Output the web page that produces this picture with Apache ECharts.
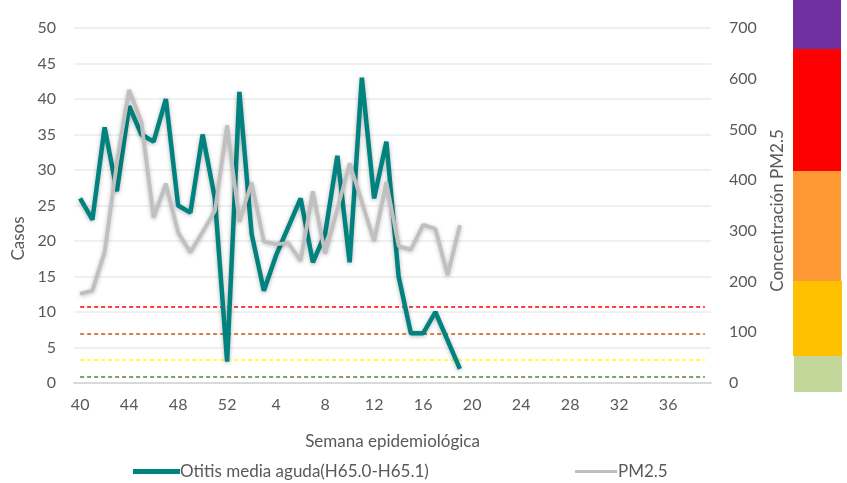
<!DOCTYPE html>
<html>
<head>
<meta charset="utf-8">
<script src="https://cdn.jsdelivr.net/npm/echarts@6/dist/echarts.min.js"></script>
<style>
html,body{margin:0;padding:0;background:#fff;}
#chart{width:847px;height:483px;}
</style>
</head>
<body>
<div id="chart"></div>
<script>
// Epidemiological weeks (categories)
var weeks = ['40','41','42','43','44','45','46','47','48','49','50','51','52',
  '1','2','3','4','5','6','7','8','9','10','11','12','13','14','15','16','17','18','19',
  '20','21','22','23','24','25','26','27','28','29','30','31','32','33','34','35','36','37','38','39'];

// Otitis media aguda cases (left axis)
var otitis = [26,23,36,27,39,35,34,40,25,24,35,26,3,
  41,21,13,18,22,26,17,21,32,17,43,26,34,15,7,7,10,6,2];

// PM2.5 concentration (right axis)
var pm25 = [176,182,258,434,578,515,326,393,297,258,298,339,508,
  318,395,279,274,276,241,378,255,343,433,357,280,396,270,263,312,304,213,311];

// PM2.5 thresholds (right axis) and their colours
var thresholds = [12, 45, 97.4, 150.4];
var thresholdColors = ['#548235', '#FFFF00', '#C55A11', '#FF0000'];

// Left / right axis ticks
var leftTicks = {min:0, max:50, interval:5};
var rightTicks = {min:0, max:700, interval:100};

var labelColor = '#595959';
var fontFam = 'Lato, "Noto Sans", sans-serif';

var chart = echarts.init(document.getElementById('chart'));

var markData = thresholds.map(function(t, i){
  return [
    {coord:[weeks[0], t], lineStyle:{color:thresholdColors[i], type:[4,3], width:1.6}},
    {coord:[weeks[weeks.length-1], t]}
  ];
});

chart.setOption({
  animation:false,
  backgroundColor:'#ffffff',
  textStyle:{fontFamily:fontFam},
  grid:{left:74, right:136, top:28, bottom:100, containLabel:false},
  legend:[
    {left:128, top:458, itemWidth:47, itemHeight:5, itemGap:0, icon:'rect',
     data:[{name:'Otitis media aguda(H65.0-H65.1)', itemStyle:{color:'#00827F'}}],
     textStyle:{color:labelColor, fontSize:17, fontFamily:fontFam, padding:[0,0,0,-5]}},
    {left:570, top:458, itemWidth:42, itemHeight:3, itemGap:0, icon:'rect',
     data:[{name:'PM2.5', itemStyle:{color:'#BFBFBF'}}],
     textStyle:{color:labelColor, fontSize:17, fontFamily:fontFam, padding:[0,0,0,-4]}}
  ],
  xAxis:{
    type:'category', data:weeks, boundaryGap:true,
    name:'Semana epidemiológica', nameLocation:'middle', nameGap:50,
    nameTextStyle:{color:labelColor, fontSize:17, fontFamily:fontFam},
    axisLine:{lineStyle:{color:'#D9D9D9', width:2}},
    axisTick:{show:false},
    axisLabel:{interval:3, color:labelColor, fontSize:16, margin:14, fontFamily:fontFam},
    splitLine:{show:false}
  },
  yAxis:[
    {type:'value', min:leftTicks.min, max:leftTicks.max, interval:leftTicks.interval,
     name:'Casos', nameLocation:'middle', nameRotate:90, nameGap:46,
     nameTextStyle:{color:labelColor, fontSize:17, fontFamily:fontFam, padding:[0,66,0,0]},
     axisLine:{show:false}, axisTick:{show:false},
     axisLabel:{color:labelColor, fontSize:16, margin:18, fontFamily:fontFam},
     splitLine:{lineStyle:{color:'#EBEBEB', width:1.5}}},
    {type:'value', min:rightTicks.min, max:rightTicks.max, interval:rightTicks.interval,
     name:'Concentración PM2.5', nameLocation:'middle', nameRotate:90, nameGap:58,
     nameTextStyle:{color:labelColor, fontSize:17, fontFamily:fontFam, padding:[0,10,0,0]},
     axisLine:{show:false}, axisTick:{show:false},
     axisLabel:{color:labelColor, fontSize:16, margin:18, fontFamily:fontFam},
     splitLine:{show:false}}
  ],
  series:[
    {name:'Otitis media aguda(H65.0-H65.1)', type:'line', yAxisIndex:0, data:otitis,
     symbol:'none', z:3,
     lineStyle:{color:'#00827F', width:4.5, shadowColor:'rgba(0,0,0,0.3)', shadowBlur:4, shadowOffsetY:1},
     itemStyle:{color:'#00827F'}},
    {name:'PM2.5', type:'line', yAxisIndex:1, data:pm25,
     symbol:'none', z:4,
     lineStyle:{color:'#C0C0C0', width:3.8, shadowColor:'rgba(0,0,0,0.25)', shadowBlur:4, shadowOffsetY:1},
     itemStyle:{color:'#C0C0C0'},
     markLine:{silent:true, symbol:'none', label:{show:false}, data:markData, z:2}}
  ],
  graphic:[
    {type:'rect', shape:{x:793, y:0, width:48, height:49}, style:{fill:'#7030A0'}},
    {type:'rect', shape:{x:793, y:49, width:48, height:122}, style:{fill:'#FF0000'}},
    {type:'rect', shape:{x:793, y:171, width:48, height:110}, style:{fill:'#FF9933'}},
    {type:'rect', shape:{x:793, y:281, width:49, height:75}, style:{fill:'#FFC000'}},
    {type:'rect', shape:{x:794, y:356, width:48, height:36}, style:{fill:'#C4D79B'}}
  ]
});
</script>
</body>
</html>
